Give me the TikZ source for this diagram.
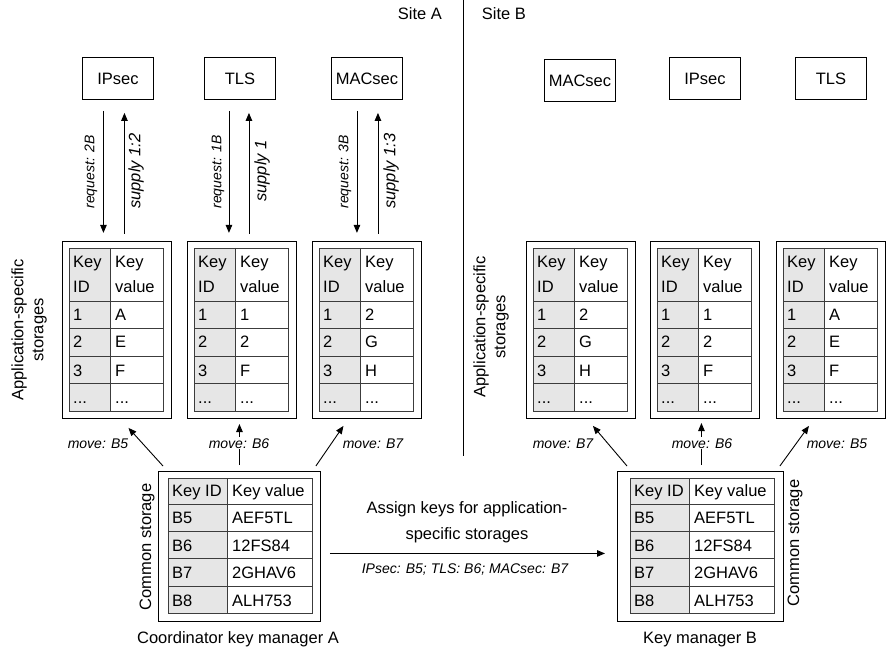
\documentclass[tikz,border=0pt]{standalone}
\usepackage{fontspec}
\setmainfont{Liberation Sans}
\usetikzlibrary{arrows.meta}
\definecolor{cellgray}{RGB}{230,230,230}
\definecolor{tablegray}{RGB}{60,60,60}
\tikzset{
  appbox/.style={draw, line width=0.9pt, minimum width=71pt, minimum height=42pt, inner sep=0pt, font=\fontsize{16.5}{19}\selectfont},
  outerbox/.style={draw, line width=0.9pt, inner sep=0pt},
  gridline/.style={draw=tablegray, line width=0.8pt},
  cell/.style={anchor=base west, inner sep=0pt, font=\fontsize{16.5}{19}\selectfont},
  arr/.style={-{Triangle[length=8pt,width=6.5pt]}, line width=0.9pt},
  lbl/.style={font=\fontsize{14}{16}\selectfont\itshape, inner sep=1pt},
  biglbl/.style={font=\fontsize{16.5}{19}\selectfont\itshape, inner sep=1pt},
  txt/.style={font=\fontsize{16.5}{19}\selectfont, inner sep=0pt},
}
\newcommand\appstore[5]{%
  \node[outerbox, minimum width=109pt, minimum height=177pt, anchor=north west] (#1) at (#2,241) {};
  \fill[cellgray] ({#2+7},248) rectangle ({#2+48},411);
  \draw[gridline] ({#2+7},248) rectangle ({#2+101},411);
  \draw[gridline] ({#2+48},248) -- ({#2+48},411);
  \foreach \yy in {301,328.5,356,383.5} \draw[gridline] ({#2+7},\yy) -- ({#2+101},\yy);
  \node[cell] (#1h1) at ({#2+11},268) {Key};
  \node[cell] (#1h2) at ({#2+11},293) {ID};
  \node[cell] (#1h3) at ({#2+53},268) {Key};
  \node[cell] (#1h4) at ({#2+53},293) {value};
  \node[cell] (#1a1) at ({#2+11},321) {1};
  \node[cell] (#1a2) at ({#2+11},348) {2};
  \node[cell] (#1a3) at ({#2+11},376) {3};
  \node[cell] (#1a4) at ({#2+11},403) {...};
  \node[cell] (#1b1) at ({#2+53},321) {#3};
  \node[cell] (#1b2) at ({#2+53},348) {#4};
  \node[cell] (#1b3) at ({#2+53},376) {#5};
  \node[cell] (#1b4) at ({#2+53},403) {...};
}
\newcommand\comstore[4]{%
  \node[outerbox, minimum width=#3pt, minimum height=150pt, anchor=north west] (#1) at (#2,471) {};
  \fill[cellgray] (#4,478) rectangle ({#4+59},613);
  \draw[gridline] (#4,478) rectangle ({#4+144},613);
  \draw[gridline] ({#4+59},478) -- ({#4+59},613);
  \foreach \yy in {504,531,558,586} \draw[gridline] (#4,\yy) -- ({#4+144},\yy);
  \node[cell] (#1h1) at ({#4+4},496) {Key ID};
  \node[cell] (#1h2) at ({#4+64},496) {Key value};
  \node[cell] (#1a1) at ({#4+4},523) {B5};
  \node[cell] (#1a2) at ({#4+4},551) {B6};
  \node[cell] (#1a3) at ({#4+4},578) {B7};
  \node[cell] (#1a4) at ({#4+4},606) {B8};
  \node[cell] (#1b1) at ({#4+64},523) {AEF5TL};
  \node[cell] (#1b2) at ({#4+64},551) {12FS84};
  \node[cell] (#1b3) at ({#4+64},578) {2GHAV6};
  \node[cell] (#1b4) at ({#4+64},606) {ALH753};
}
\begin{document}
\begin{tikzpicture}[x=1pt,y=-1pt]
\useasboundingbox (0,0) rectangle (887,647);
% divider
\draw[line width=0.9pt] (463,0) -- (463,456);
\node[txt, anchor=base] (siteA) at (420,20) {Site A};
\node[txt, anchor=base] (siteB) at (504,20) {Site B};
% application boxes
\node[appbox, anchor=north west] (ipA) at (82,57) {IPsec};
\node[appbox, anchor=north west] (tlsA) at (204,57) {TLS};
\node[appbox, anchor=north west] (macA) at (331,57) {MACsec};
\node[appbox, anchor=north west] (macB) at (544,59) {MACsec};
\node[appbox, anchor=north west] (ipB) at (669,57) {IPsec};
\node[appbox, anchor=north west] (tlsB) at (795,57) {TLS};
% application-specific storages
\appstore{sA1}{62}{A}{E}{F}
\appstore{sA2}{187}{1}{2}{F}
\appstore{sA3}{312}{2}{G}{H}
\appstore{sB1}{526}{2}{G}{H}
\appstore{sB2}{650}{1}{2}{F}
\appstore{sB3}{776}{A}{E}{F}
\node[txt, rotate=90, align=center, font=\fontsize{16.5}{20}\selectfont] (asA) at (29,330) {Application-specific\\storages};
\node[txt, rotate=90, align=center, font=\fontsize{16.5}{20}\selectfont] (asB) at (491,327) {Application-specific\\storages};
% request / supply arrows
\draw[arr] ([xshift=-14.5pt]ipA.south) ++(0,11) -- ++(0,122);
\draw[arr] ([xshift=6.5pt]ipA.south) ++(0,134) -- ++(0,-121);
\draw[arr] ([xshift=-11pt]tlsA.south) ++(0,11) -- ++(0,122);
\draw[arr] ([xshift=9pt]tlsA.south) ++(0,134) -- ++(0,-121);
\draw[arr] ([xshift=-10pt]macA.south) ++(0,11) -- ++(0,122);
\draw[arr] ([xshift=11pt]macA.south) ++(0,134) -- ++(0,-121);
\node[lbl, rotate=90] (rq1) at (91,172) {request: 2B};
\node[biglbl, rotate=90] (sp1) at (136,171) {supply 1:2};
\node[lbl, rotate=90] (rq2) at (218,172) {request: 1B};
\node[biglbl, rotate=90] (sp2) at (262,171) {supply 1};
\node[lbl, rotate=90] (rq3) at (345,172) {request: 3B};
\node[biglbl, rotate=90] (sp3) at (391,171) {supply 1:3};
% common storages
\comstore{cA}{158}{162}{168}
\comstore{cB}{617}{166}{630}
\node[txt, rotate=90] (csA) at (147,547) {Common storage};
\node[txt, rotate=90] (csB) at (795,543) {Common storage};
\node[txt, anchor=base] (kmA) at (238,643) {Coordinator key manager A};
\node[txt, anchor=base] (kmB) at (700,643) {Key manager B};
% move arrows site A
\draw[arr] ([xshift=5pt,yshift=5pt]cA.north west) -- ([xshift=11.5pt,yshift=-9pt]sA1.south);
\draw[arr] ([yshift=6pt]cA.north) -- ++(0,-41);
\draw[arr] ([xshift=-5pt,yshift=5pt]cA.north east) -- ([xshift=-23.5pt,yshift=-7pt]sA3.south);
\node[lbl, anchor=base] (mA1) at (98,448) {move: B5};
\node[lbl, anchor=base, fill=white] (mA2) at (239,448) {move: B6};
\node[lbl, anchor=base] (mA3) at (373,448) {move: B7};
% move arrows site B
\draw[arr] ([xshift=10pt,yshift=5pt]cB.north west) -- ([xshift=12pt,yshift=-7pt]sB1.south);
\draw[arr] ([xshift=1pt,yshift=6pt]cB.north) -- ++(0,-42);
\draw[arr] ([xshift=-4pt,yshift=5pt]cB.north east) -- ([xshift=-22pt,yshift=-7pt]sB3.south);
\node[lbl, anchor=base] (mB1) at (563,448) {move: B7};
\node[lbl, anchor=base, fill=white] (mB2) at (702,448) {move: B6};
\node[lbl, anchor=base] (mB3) at (837,448) {move: B5};
% assign arrow
\draw[arr] ([xshift=9pt,yshift=-7pt]cA.east) -- ([xshift=-12pt,yshift=-7pt]cB.west);
\node[txt, anchor=base] (as1) at (467,513) {Assign keys for application-};
\node[txt, anchor=base] (as2) at (467,539) {specific storages};
\node[lbl, anchor=base] (as3) at (465,573) {IPsec: B5; TLS: B6; MACsec: B7};
\end{tikzpicture}
\end{document}
